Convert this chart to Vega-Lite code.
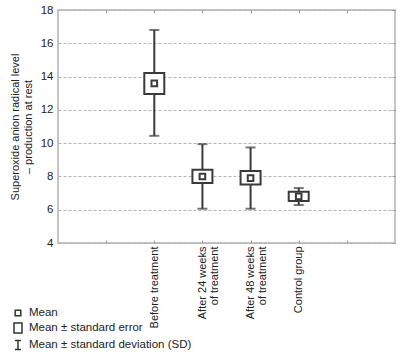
{
  "$schema": "https://vega.github.io/schema/vega-lite/v6.json",
  "width": 337,
  "height": 233,
  "autosize": {"type": "none"},
  "padding": {"left": 58, "top": 10, "right": 5, "bottom": 113},
  "background": "white",
  "config": {
    "font": "Liberation Sans",
    "view": {"stroke": "#c4c4c4", "strokeWidth": 2},
    "axis": {"labelColor": "#222", "titleColor": "#222", "labelFont": "Liberation Sans", "titleFont": "Liberation Sans"},
    "legend": {"labelFont": "Liberation Sans", "labelColor": "#222", "labelFontSize": 11.5, "labelLimit": 300, "symbolStrokeWidth": 1.5, "symbolStrokeColor": "#333", "symbolFillColor": "white", "symbolSize": 100, "rowPadding": 1, "labelOffset": 5}
  },
  "data": {"values": [
    {"group": "Before treatment", "mean": 13.59, "se_lo": 12.96, "se_hi": 14.22, "sd_lo": 10.44, "sd_hi": 16.8},
    {"group": "After 24 weeks of treatment", "mean": 8.0, "se_lo": 7.6, "se_hi": 8.4, "sd_lo": 6.06, "sd_hi": 9.94},
    {"group": "After 48 weeks of treatment", "mean": 7.9, "se_lo": 7.52, "se_hi": 8.32, "sd_lo": 6.06, "sd_hi": 9.74},
    {"group": "Control group", "mean": 6.8, "se_lo": 6.52, "se_hi": 7.08, "sd_lo": 6.28, "sd_hi": 7.3}
  ]},
  "resolve": {"axis": {"x": "independent", "y": "independent"}},
  "layer": [
    {
      "mark": {"type": "rule", "color": "#3a3a3a", "strokeWidth": 2},
      "encoding": {
        "x": {"field": "group", "type": "nominal",
          "scale": {"type": "point", "domain": [" ", "Before treatment", "After 24 weeks of treatment", "After 48 weeks of treatment", "Control group", "  "], "padding": 1},
          "axis": {"orient": "bottom", "title": null, "domain": false, "ticks": true, "tickSize": -3, "tickColor": "#999", "labelAngle": -90, "labelFontSize": 11, "labelPadding": 6, "labelLineHeight": 12,
            "labelExpr": "indexof(datum.label, 'weeks') > 0 ? [slice(datum.label, 0, 14), slice(datum.label, 15)] : datum.label"}},
        "y": {"field": "sd_lo", "type": "quantitative",
          "scale": {"domain": [4, 18], "nice": false, "zero": false},
          "axis": {"orient": "left", "values": [4, 6, 8, 10, 12, 14, 16, 18], "domain": false, "ticks": false, "labelFontSize": 11.5, "labelPadding": 5,
            "grid": true, "gridColor": "#b4b4b4", "gridDash": [3, 2], "gridWidth": 1,
            "title": ["Superoxide anion radical level", "– production at rest"], "titleFontSize": 11, "titleFontWeight": "normal", "titleLineHeight": 13, "titlePadding": 7}},
        "y2": {"field": "sd_hi"}
      }
    },
    {
      "mark": {"type": "tick", "color": "#3a3a3a", "size": 10, "thickness": 2},
      "encoding": {
        "x": {"field": "group", "type": "nominal",
          "axis": {"orient": "top", "title": null, "domain": false, "labels": false, "ticks": true, "tickSize": -3, "tickColor": "#999"}},
        "y": {"field": "sd_lo", "type": "quantitative",
          "axis": {"orient": "right", "title": null, "values": [4, 6, 8, 10, 12, 14, 16, 18], "domain": false, "labels": false, "ticks": true, "tickSize": -3, "tickColor": "#999", "grid": false}}
      }
    },
    {
      "mark": {"type": "tick", "color": "#3a3a3a", "size": 10, "thickness": 2},
      "encoding": {
        "x": {"field": "group", "type": "nominal", "axis": null},
        "y": {"field": "sd_hi", "type": "quantitative", "axis": null}
      }
    },
    {
      "mark": {"type": "bar", "width": 20, "fill": "white", "stroke": "#3a3a3a", "strokeWidth": 2},
      "encoding": {
        "x": {"field": "group", "type": "nominal", "axis": null},
        "y": {"field": "se_lo", "type": "quantitative", "axis": null},
        "y2": {"field": "se_hi"}
      }
    },
    {
      "mark": {"type": "point", "filled": false, "color": "#3a3a3a", "strokeWidth": 2, "size": 100, "opacity": 1},
      "encoding": {
        "x": {"field": "group", "type": "nominal", "axis": null},
        "y": {"field": "mean", "type": "quantitative", "axis": null},
        "shape": {"datum": "Mean", "type": "nominal",
          "scale": {"domain": ["Mean", "Mean ± standard error", "Mean ± standard deviation (SD)"],
            "range": ["M-0.56,-0.56H0.56V0.56H-0.56Z", "M-0.8,-1H0.8V1H-0.8Z", "M-0.6,-0.9H0.6M0,-0.9V0.9M-0.6,0.9H0.6"]},
          "legend": {"title": null, "orient": "none", "legendX": -46, "legendY": 297}}
      }
    }
  ]
}
